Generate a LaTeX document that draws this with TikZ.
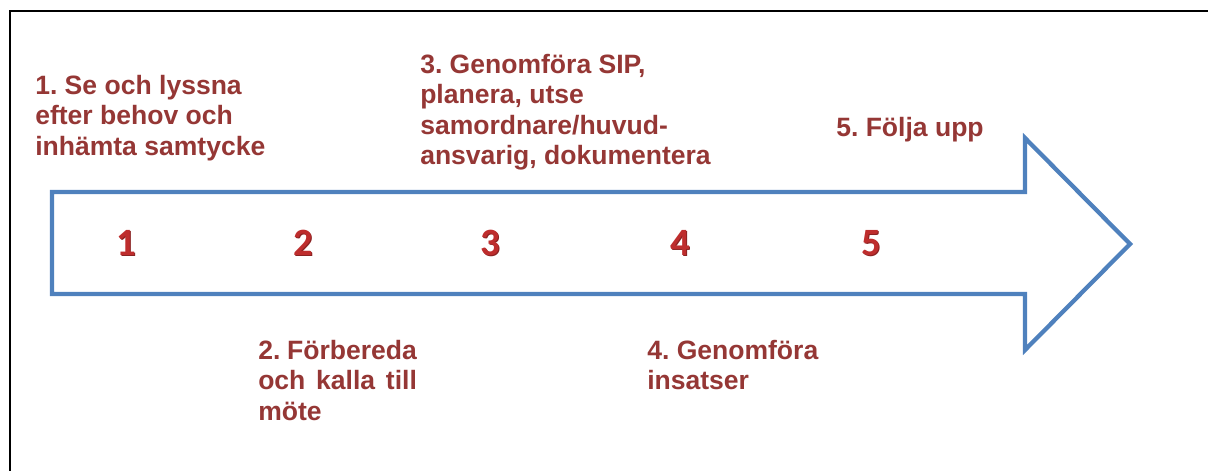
\documentclass[tikz,border=0pt]{standalone}
\usepackage{fontspec}
\setmainfont{Liberation Sans}
\newfontfamily\numfont{Carlito}
\usepackage{xcolor}
\usetikzlibrary{positioning}

\definecolor{arrowblue}{HTML}{4F81BD}
\definecolor{labelred}{HTML}{953735}
\definecolor{numred}{HTML}{BE2D2D}
\definecolor{numshadow}{HTML}{8A2222}

\begin{document}
\frenchspacing
\begin{tikzpicture}[
      x=0.75pt, y=-0.75pt,
      steplabel/.style={
        anchor=north west,
        inner sep=0pt,
        align=left,
        text=labelred,
        font=\fontsize{19.9}{22.7}\selectfont\bfseries
      },
      stepnum/.style={
        inner sep=0pt,
        text=numred,
        font=\fontsize{29}{30}\selectfont\numfont\bfseries
      },
      numshade/.style={
        stepnum,
        text=numshadow,
        xshift=0.6pt, yshift=-0.6pt
      },
      processarrow/.style={
        draw=arrowblue,
        line width=3.2pt,
        line join=miter
      },
      frameline/.style={
        draw=black,
        line width=2.2pt
      }
    ]
    \useasboundingbox (0,0) rectangle (1208,471);

    % Frame
    \draw [frameline] (10,471) -- (10,11) -- (1208,11);

    % Big arrow
    \draw [processarrow] (52,192) -- (1025,192) -- (1025,138) -- (1130,244)
      -- (1025,350) -- (1025,294) -- (52,294) -- cycle;

    % Numbers inside the arrow (with a darker shadow behind)
    \node (numOneShade) [numshade] at (126,243) {1};
    \node (numTwoShade) [numshade] at (303,243) {2};
    \node (numThreeShade) [numshade] at (490,243) {3};
    \node (numFourShade) [numshade] at (680,243) {4};
    \node (numFiveShade) [numshade] at (871,243) {5};
    \node (numOne) [stepnum] at (126,243) {1};
    \node (numTwo) [stepnum] at (303,243) {2};
    \node (numThree) [stepnum] at (490,243) {3};
    \node (numFour) [stepnum] at (680,243) {4};
    \node (numFive) [stepnum] at (871,243) {5};

    % Step labels above the arrow
    \node (stepOneText) [steplabel] at (35,75) {1. Se och lyssna\\efter behov och\\inhämta samtycke};
    \node (stepThreeText) [steplabel] at (420,54) {3. Genomföra SIP,\\planera, utse\\samordnare/huvud-\\ansvarig, dokumentera};
    \node (stepFiveText) [steplabel] at (836,117) {5. Följa upp};

    % Step labels below the arrow
    \node (stepTwoText) [steplabel, text width=119pt, align=justify] at (258,340) {2. Förbereda\linebreak och kalla till\linebreak möte};
    \node (stepFourText) [steplabel] at (647,340) {4. Genomföra\\insatser};

\end{tikzpicture}
\end{document}
